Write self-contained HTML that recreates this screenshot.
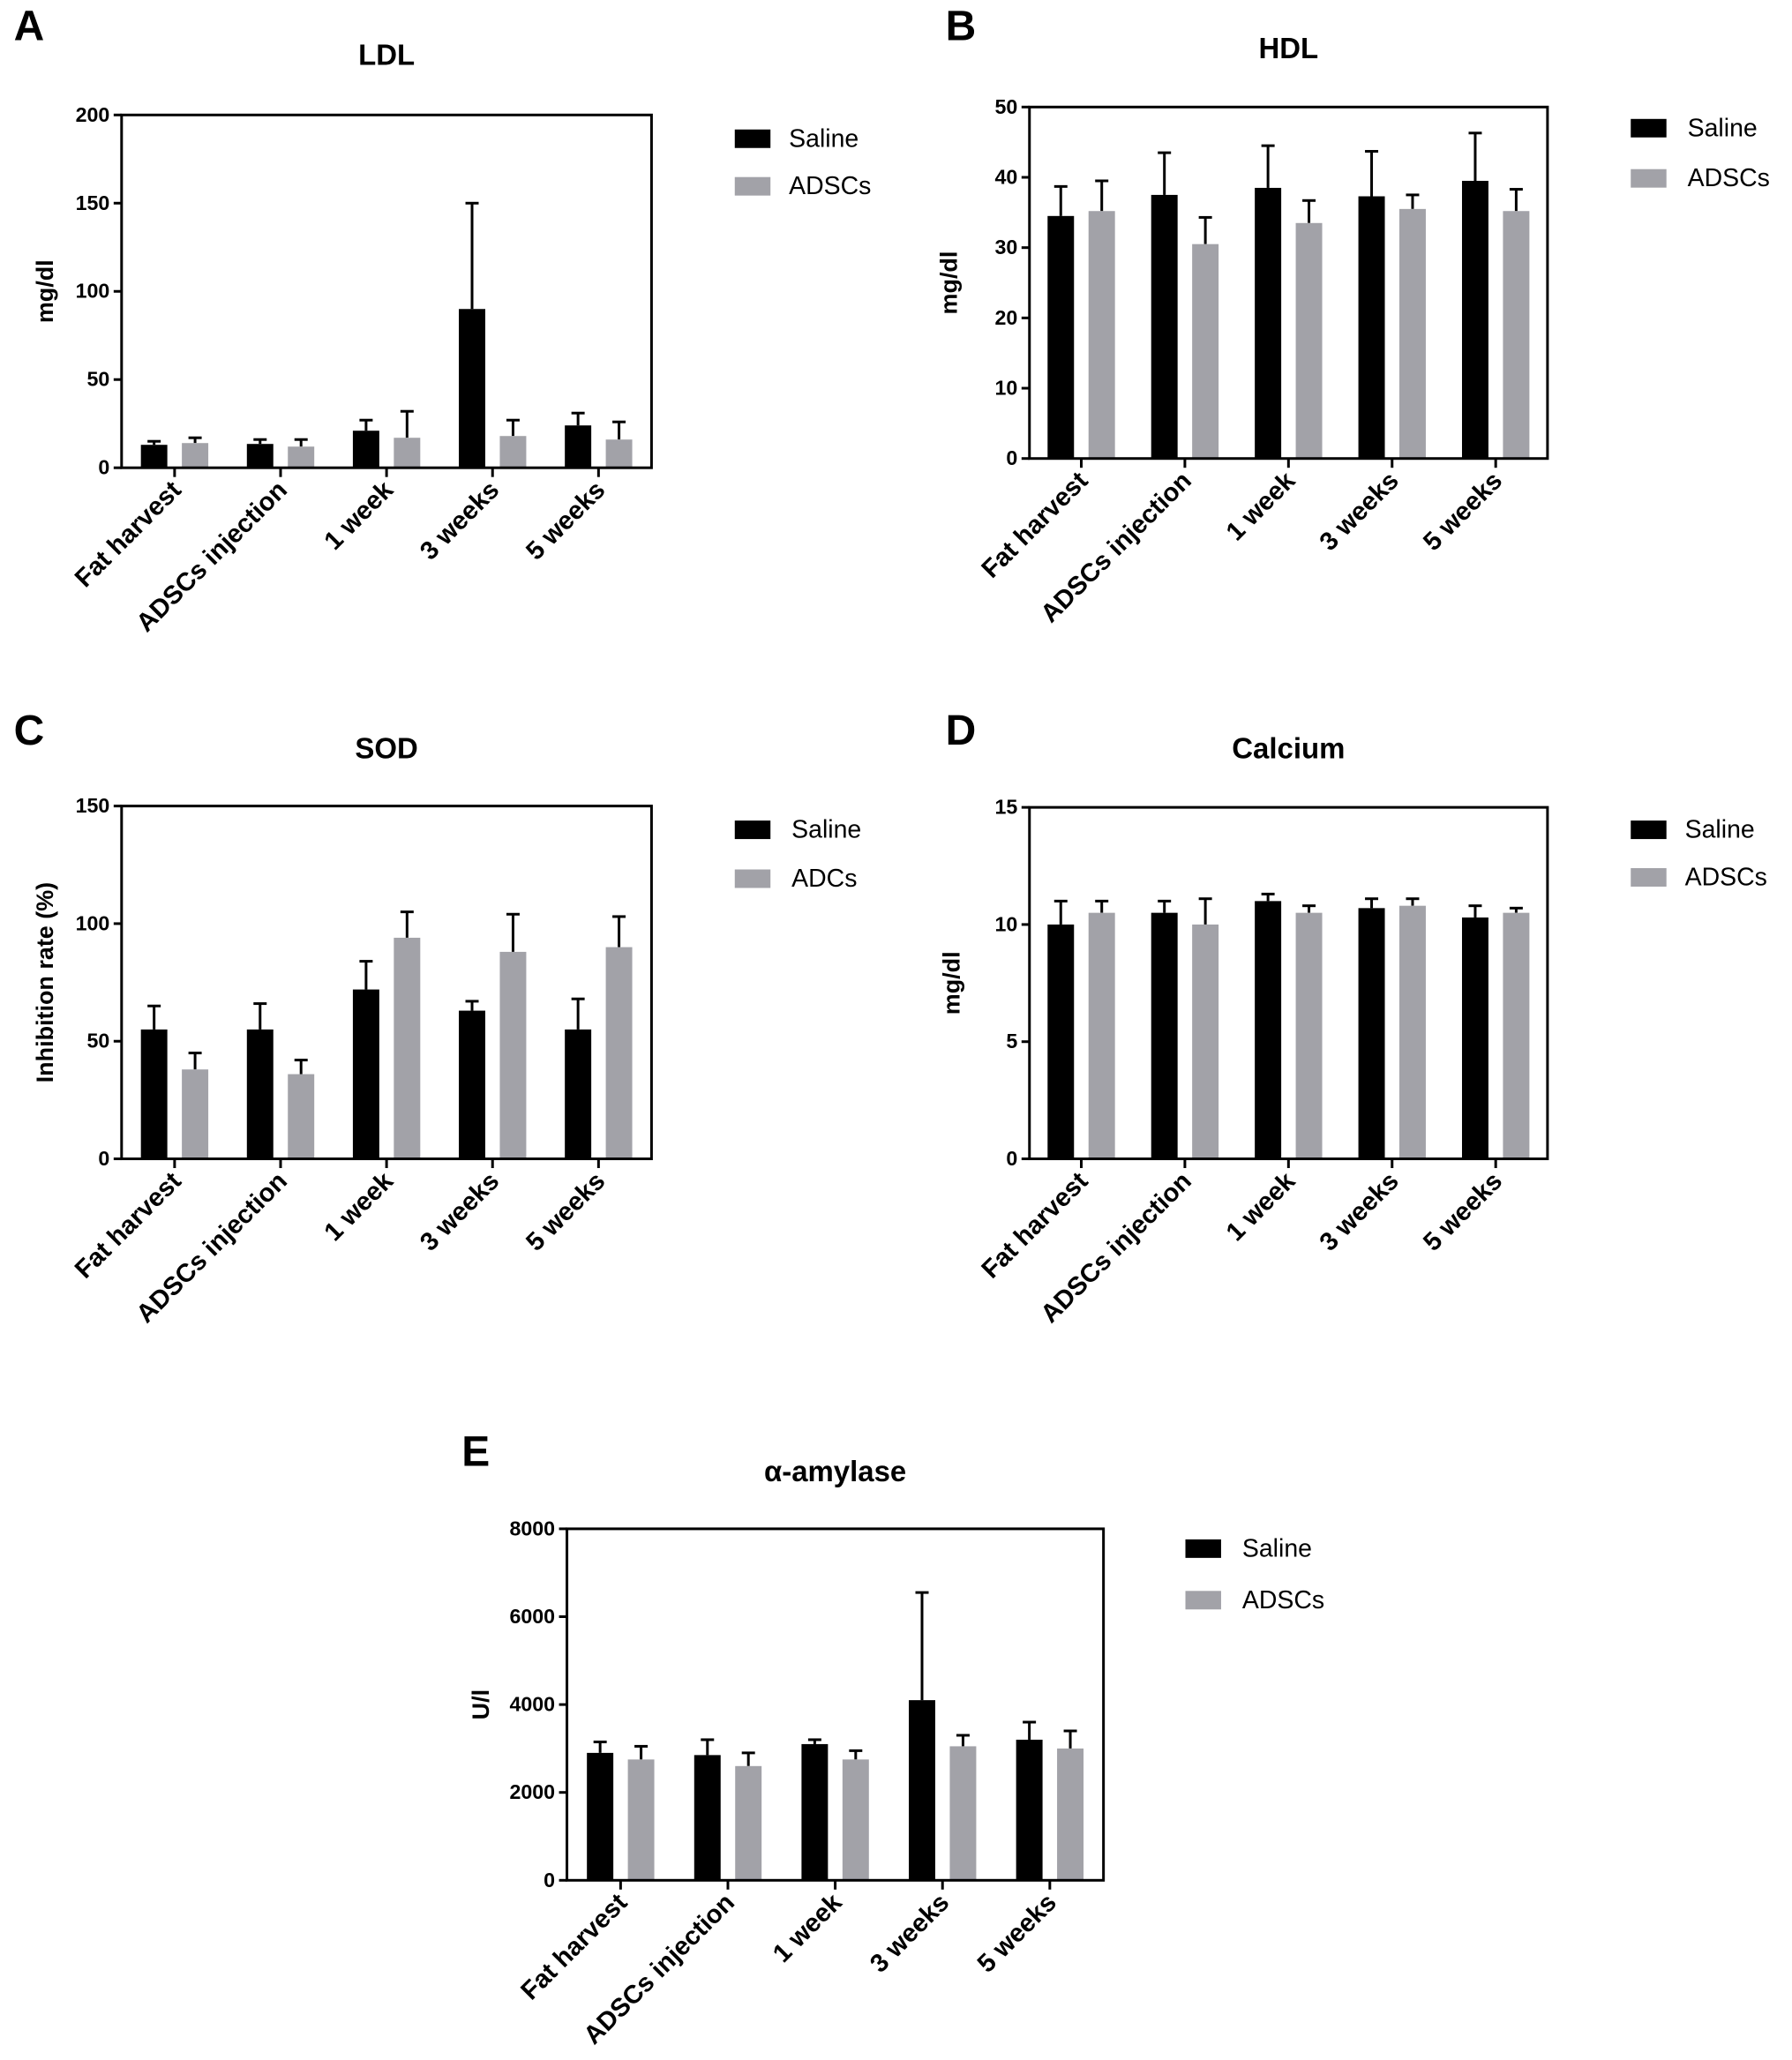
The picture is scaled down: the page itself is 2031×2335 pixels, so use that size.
<!DOCTYPE html>
<html><head><meta charset="utf-8">
<style>
html,body{margin:0;padding:0;background:#fff;}
svg{display:block;font-family:"Liberation Sans",Arial,sans-serif;}
</style></head>
<body>
<svg id="fig" width="2031" height="2335" viewBox="0 0 1356 1559" xmlns="http://www.w3.org/2000/svg"></svg>
<script>
const categories = ["Fat harvest","ADSCs injection","1 week","3 weeks","5 weeks"];
const ldlSaline = [13,13.5,21,90,24];
const ldlSalineErr = [15,16,27,150,31];
const ldlAdscs = [14,12,17,18,16];
const ldlAdscsErr = [17,16,32,27,26];
const ldlTicks = [0,50,100,150,200];
const hdlSaline = [34.5,37.5,38.5,37.3,39.5];
const hdlSalineErr = [38.7,43.5,44.5,43.7,46.3];
const hdlAdscs = [35.2,30.5,33.5,35.5,35.2];
const hdlAdscsErr = [39.5,34.3,36.7,37.5,38.3];
const hdlTicks = [0,10,20,30,40,50];
const sodSaline = [55,55,72,63,55];
const sodSalineErr = [65,66,84,67,68];
const sodAdcs = [38,36,94,88,90];
const sodAdcsErr = [45,42,105,104,103];
const sodTicks = [0,50,100,150];
const caSaline = [10,10.5,11,10.7,10.3];
const caSalineErr = [11,11,11.3,11.1,10.8];
const caAdscs = [10.5,10,10.5,10.8,10.5];
const caAdscsErr = [11,11.1,10.8,11.1,10.7];
const caTicks = [0,5,10,15];
const amySaline = [2900,2850,3100,4100,3200];
const amySalineErr = [3150,3200,3200,6550,3600];
const amyAdscs = [2750,2600,2750,3050,3000];
const amyAdscsErr = [3050,2900,2950,3300,3400];
const amyTicks = [0,2000,4000,6000,8000];

const NS="http://www.w3.org/2000/svg";
const svg=document.getElementById('fig');
function mk(tag,attrs,parent,txt){const e=document.createElementNS(NS,tag);for(const k in attrs)e.setAttribute(k,attrs[k]);if(txt!==undefined)e.textContent=txt;(parent||svg).appendChild(e);return e;}

function panel(o){
  const g=mk('g',{});
  
  
  const L=o.box[0],R=o.box[1],T=o.box[2],B=o.box[3];
  const ymax=o.ticks[o.ticks.length-1];
  const y=v=>B-(v/ymax)*(B-T);
  const gw=(R-L)/categories.length;
  const cx=i=>L+gw*(i+0.5);
  const lt=mk('text',{x:o.letter[0],y:o.letter[1],'font-size':32,'font-weight':'bold','text-anchor':'middle','dominant-baseline':'middle'},g,o.id);
  
  
  const ti=mk('text',{x:(L+R)/2,y:T-o.titleOff,'font-size':22,'font-weight':'bold','text-anchor':'middle'},g,o.title);
  
  
  const w=20;
  categories.forEach((c,i)=>{
    [[o.s1,o.e1,'#000',-1],[o.s2,o.e2,'#a2a2a8',1]].forEach(([vals,errs,col,side],k)=>{
      const x=cx(i)+side*15.5-w/2;
      const eb=mk('line',{x1:x+w/2,x2:x+w/2,y1:y(errs[i]),y2:y(vals[i]),stroke:'#000','stroke-width':2},g);
      
      
      const cap=mk('line',{x1:x+w/2-5,x2:x+w/2+5,y1:y(errs[i]),y2:y(errs[i]),stroke:'#000','stroke-width':2},g);
      
      
      const r=mk('rect',{x:x,y:y(vals[i]),width:w,height:B-y(vals[i]),fill:col},g);
      
      
    });
    const tk=mk('line',{x1:cx(i),x2:cx(i),y1:B,y2:B+7,stroke:'#000','stroke-width':2},g);
    
    
    const tl=mk('text',{x:cx(i)+6,y:B+18,'font-size':19.5,'font-weight':'bold','text-anchor':'end',transform:`rotate(-45 ${cx(i)+6} ${B+18})`},g,c);
    
    
  });
  const fr=mk('rect',{x:L,y:T,width:R-L,height:B-T,fill:'none',stroke:'#000','stroke-width':2},g);
  
  
  o.ticks.forEach(t=>{
    const l=mk('line',{x1:L-6,x2:L,y1:y(t),y2:y(t),stroke:'#000','stroke-width':2},g);
    
    
    const tt=mk('text',{x:L-9,y:y(t)+5,'font-size':15.5,'font-weight':'bold','text-anchor':'end'},g,t);
    
    
  });
  const yl=mk('text',{x:o.ylx,y:(T+B)/2,'font-size':18,'font-weight':'bold','text-anchor':'middle',transform:`rotate(-90 ${o.ylx} ${(T+B)/2})`},g,o.ylabel);
  
  
  [['Saline','#000'],[o.name2,'#a2a2a8']].forEach(([n,col],k)=>{
    const ly=o.leg[1]+k*o.legGap;
    const sw=mk('rect',{x:o.leg[0],y:ly-7,width:27,height:14,fill:col},g);
    
    
    const lt2=mk('text',{x:o.leg[0]+o.legTx,y:ly+6,'font-size':19},g,n);
    
    
  });
}
panel({id:'A',title:'LDL',box:[92,493,87,354],letter:[22,22],titleOff:38,ticks:ldlTicks,s1:ldlSaline,e1:ldlSalineErr,s2:ldlAdscs,e2:ldlAdscsErr,ylabel:'mg/dl',ylx:40,leg:[556,105],legGap:36,legTx:41,name2:'ADSCs'});
panel({id:'B',title:'HDL',box:[779,1171,81,347],letter:[727,22],titleOff:37,ticks:hdlTicks,s1:hdlSaline,e1:hdlSalineErr,s2:hdlAdscs,e2:hdlAdscsErr,ylabel:'mg/dl',ylx:724,leg:[1234,97],legGap:38,legTx:43,name2:'ADSCs'});
panel({id:'C',title:'SOD',box:[92,493,610,877],letter:[22,555],titleOff:36,ticks:sodTicks,s1:sodSaline,e1:sodSalineErr,s2:sodAdcs,e2:sodAdcsErr,ylabel:'Inhibition rate (%)',ylx:40,leg:[556,628],legGap:37,legTx:43,name2:'ADCs'});
panel({id:'D',title:'Calcium',box:[779,1171,611,877],letter:[727,555],titleOff:37,ticks:caTicks,s1:caSaline,e1:caSalineErr,s2:caAdscs,e2:caAdscsErr,ylabel:'mg/dl',ylx:726,leg:[1234,628],legGap:36,legTx:41,name2:'ADSCs'});
panel({id:'E',title:'α-amylase',box:[429,835,1157,1423],letter:[360,1101],titleOff:36,ticks:amyTicks,s1:amySaline,e1:amySalineErr,s2:amyAdscs,e2:amyAdscsErr,ylabel:'U/l',ylx:370,leg:[897,1172],legGap:39,legTx:43,name2:'ADSCs'});
</script>
</body></html>
